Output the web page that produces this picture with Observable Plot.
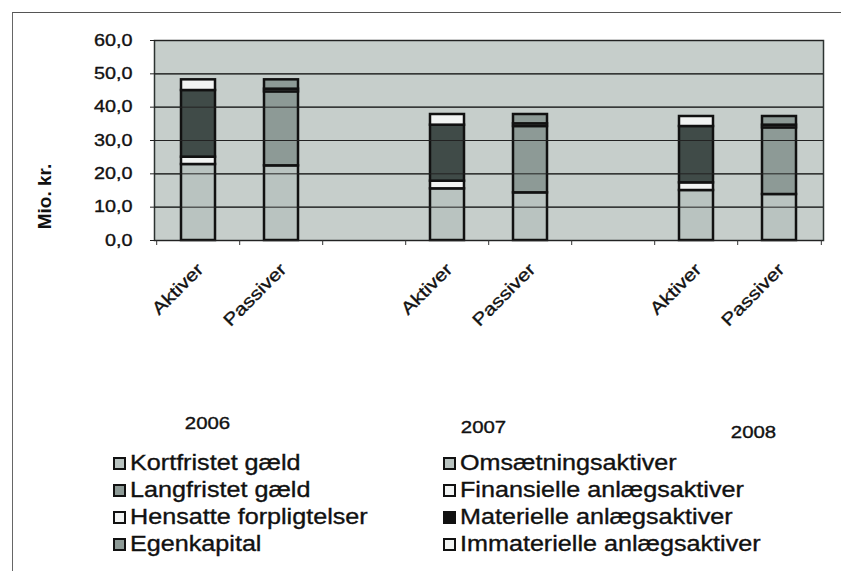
<!DOCTYPE html>
<html><head><meta charset="utf-8">
<script src="https://cdn.jsdelivr.net/npm/d3@7"></script>
<script src="https://cdn.jsdelivr.net/npm/@observablehq/plot@0.6"></script>
<style>
body{margin:0;background:#fff;font-family:"Liberation Sans",Arial,sans-serif;}
#wrap{position:relative;width:841px;height:571px;overflow:hidden;background:#fff;}
#frame{position:absolute;left:12px;top:12px;right:-5px;bottom:-5px;border-left:1px solid #666;border-top:1.5px solid #555;}
#chart{position:absolute;left:0;top:0;}
#legend{position:absolute;left:0;top:0;width:841px;height:571px;}
.item{position:absolute;height:27px;display:flex;align-items:center;white-space:nowrap;}
.sw{width:9px;height:9px;border:2px solid #111;margin-right:4px;flex:none;}
.lt{font-size:21.5px;color:#111;-webkit-text-stroke:0.35px #111;transform:scaleX(1.17);transform-origin:left center;}
</style></head><body>
<div id="wrap"><div id="frame"></div><div id="chart"></div><div id="legend"></div></div>
<script>
// ---- data ----
const categories = ["A2006", "P2006", "gap1", "A2007", "P2007", "gap2", "A2008", "P2008"];
const categoryLabels = ["Aktiver", "Passiver", "", "Aktiver", "Passiver", "", "Aktiver", "Passiver"];
const years = ["2006", "2007", "2008"];
const aktivSeries = ["Omsætningsaktiver", "Finansielle anlægsaktiver", "Materielle anlægsaktiver", "Immaterielle anlægsaktiver"];
const passivSeries = ["Kortfristet gæld", "Langfristet gæld", "Hensatte forpligtelser", "Egenkapital"];
const aktiver2006 = [22.8, 2.2, 20.0, 3.2];
const passiver2006 = [22.4, 22.2, 0.8, 2.8];
const aktiver2007 = [15.5, 2.3, 16.8, 3.2];
const passiver2007 = [14.3, 19.9, 0.8, 2.8];
const aktiver2008 = [15.0, 2.3, 16.9, 3.0];
const passiver2008 = [13.8, 20.0, 0.8, 2.6];
const yTicks = [0, 10, 20, 30, 40, 50, 60];
const legendLeft = ["Kortfristet gæld", "Langfristet gæld", "Hensatte forpligtelser", "Egenkapital"];
const legendRight = ["Omsætningsaktiver", "Finansielle anlægsaktiver", "Materielle anlægsaktiver", "Immaterielle anlægsaktiver"];

// ---- styles ----
const barColors = {
  "Kortfristet gæld": "#b9c3c0", "Omsætningsaktiver": "#b9c3c0",
  "Langfristet gæld": "#8d9a96", "Egenkapital": "#8d9a96",
  "Hensatte forpligtelser": "#f2f4f3", "Finansielle anlægsaktiver": "#f2f4f3",
  "Materielle anlægsaktiver": "#404b48", "Immaterielle anlægsaktiver": "#f2f4f3"
};
const swatchColors = Object.assign({}, barColors, {"Materielle anlægsaktiver": "#111"});
const yearOffsets = [{dx: 9, dy: 183}, {dx: 36, dy: 187}, {dx: 57, dy: 192}];
const textStretch = 1.2;

// ---- table ----
const table = [];
function addStack(cat, series, values) {
  series.forEach((s, i) => table.push({cat, series: s, value: values[i]}));
}
addStack("A2006", aktivSeries, aktiver2006);
addStack("P2006", passivSeries, passiver2006);
addStack("A2007", aktivSeries, aktiver2007);
addStack("P2007", passivSeries, passiver2007);
addStack("A2008", aktivSeries, aktiver2008);
addStack("P2008", passivSeries, passiver2008);

const W = 841, H = 450, mL = 154, mR = 18, mT = 40, mB = 210;
const step = (W - mL - mR) / categories.length;
const labelOf = Object.fromEntries(categories.map((c, i) => [c, categoryLabels[i]]));
const fmt = d => d.toFixed(1).replace(".", ",");
const ink = {fill: "#111", stroke: "#111", strokeWidth: 0.35};

const marks = [
  Plot.frame({fill: "#c6cecb", stroke: "none"}),
  Plot.gridY(yTicks, {stroke: "#3f4644", strokeOpacity: 1, strokeWidth: 1.2}),
  Plot.frame({stroke: "#2c3331", strokeWidth: 1.5}),
  Plot.barY(table, {x: "cat", y: "value", fill: d => barColors[d.series], stroke: "#111", strokeWidth: 2.5}),
  Plot.tickY(yTicks, {y: d => d, frameAnchor: "left", stroke: "#222", insetLeft: -4, insetRight: 0}),
  Plot.text(yTicks, {y: d => d, text: fmt, frameAnchor: "left", textAnchor: "end", dx: -22, fontSize: 16.5, ...ink}),
  // boundary ticks on x axis
  Plot.ruleX(categories, {x: d => d, y1: 0, y2: 0, insetBottom: -5, dx: -step / 2, stroke: "#333"}),
  Plot.ruleX(categories.slice(-1), {x: d => d, y1: 0, y2: 0, insetBottom: -5, dx: step / 2, stroke: "#333"}),
  Plot.text(categories.filter(c => labelOf[c]), {x: d => d, y: 0, text: d => labelOf[d], rotate: -45, textAnchor: "end", lineAnchor: "middle", dx: 2, dy: 26, fontSize: 17.5, ...ink}),
  ...years.map((yr, i) => Plot.text([yr], {x: () => categories[i * 3], y: 0, text: d => d, dx: yearOffsets[i].dx, dy: yearOffsets[i].dy, fontSize: 17, ...ink})),
  Plot.text(["Mio. kr."], {frameAnchor: "left", textAnchor: "middle", text: d => d, rotate: -90, dx: -110, dy: 56, fontSize: 19, fontWeight: "bold", fill: "#111"})
];

const chart = Plot.plot({
  width: W, height: H,
  marginLeft: mL, marginRight: mR, marginTop: mT, marginBottom: mB,
  style: {fontFamily: '"Liberation Sans", Arial, sans-serif', background: "transparent"},
  x: {type: "band", domain: categories, paddingInner: 0.59, paddingOuter: 0.295, axis: null},
  y: {domain: [0, 60], axis: null},
  marks
});
// horizontally stretch texts (the reference scan is wider than tall)
d3.select(chart).selectAll("text").each(function () {
  if (this.textContent === "Mio. kr.") return;
  const t = this.getAttribute("transform") || "";
  this.setAttribute("transform", t + ` scale(${textStretch},1)`);
});
document.getElementById("chart").appendChild(chart);

// ---- legend ----
const legend = document.getElementById("legend");
const rowY = [449.5, 476.5, 503.5, 530.5];
function addCol(names, left) {
  names.forEach((n, i) => {
    const it = document.createElement("div");
    it.className = "item";
    it.style.left = left + "px";
    it.style.top = rowY[i] + "px";
    const sw = document.createElement("div");
    sw.className = "sw";
    sw.style.background = swatchColors[n];
    const tx = document.createElement("span");
    tx.className = "lt";
    tx.textContent = n;
    it.appendChild(sw); it.appendChild(tx);
    legend.appendChild(it);
  });
}
addCol(legendLeft, 113);
addCol(legendRight, 443);
</script>
</body></html>
